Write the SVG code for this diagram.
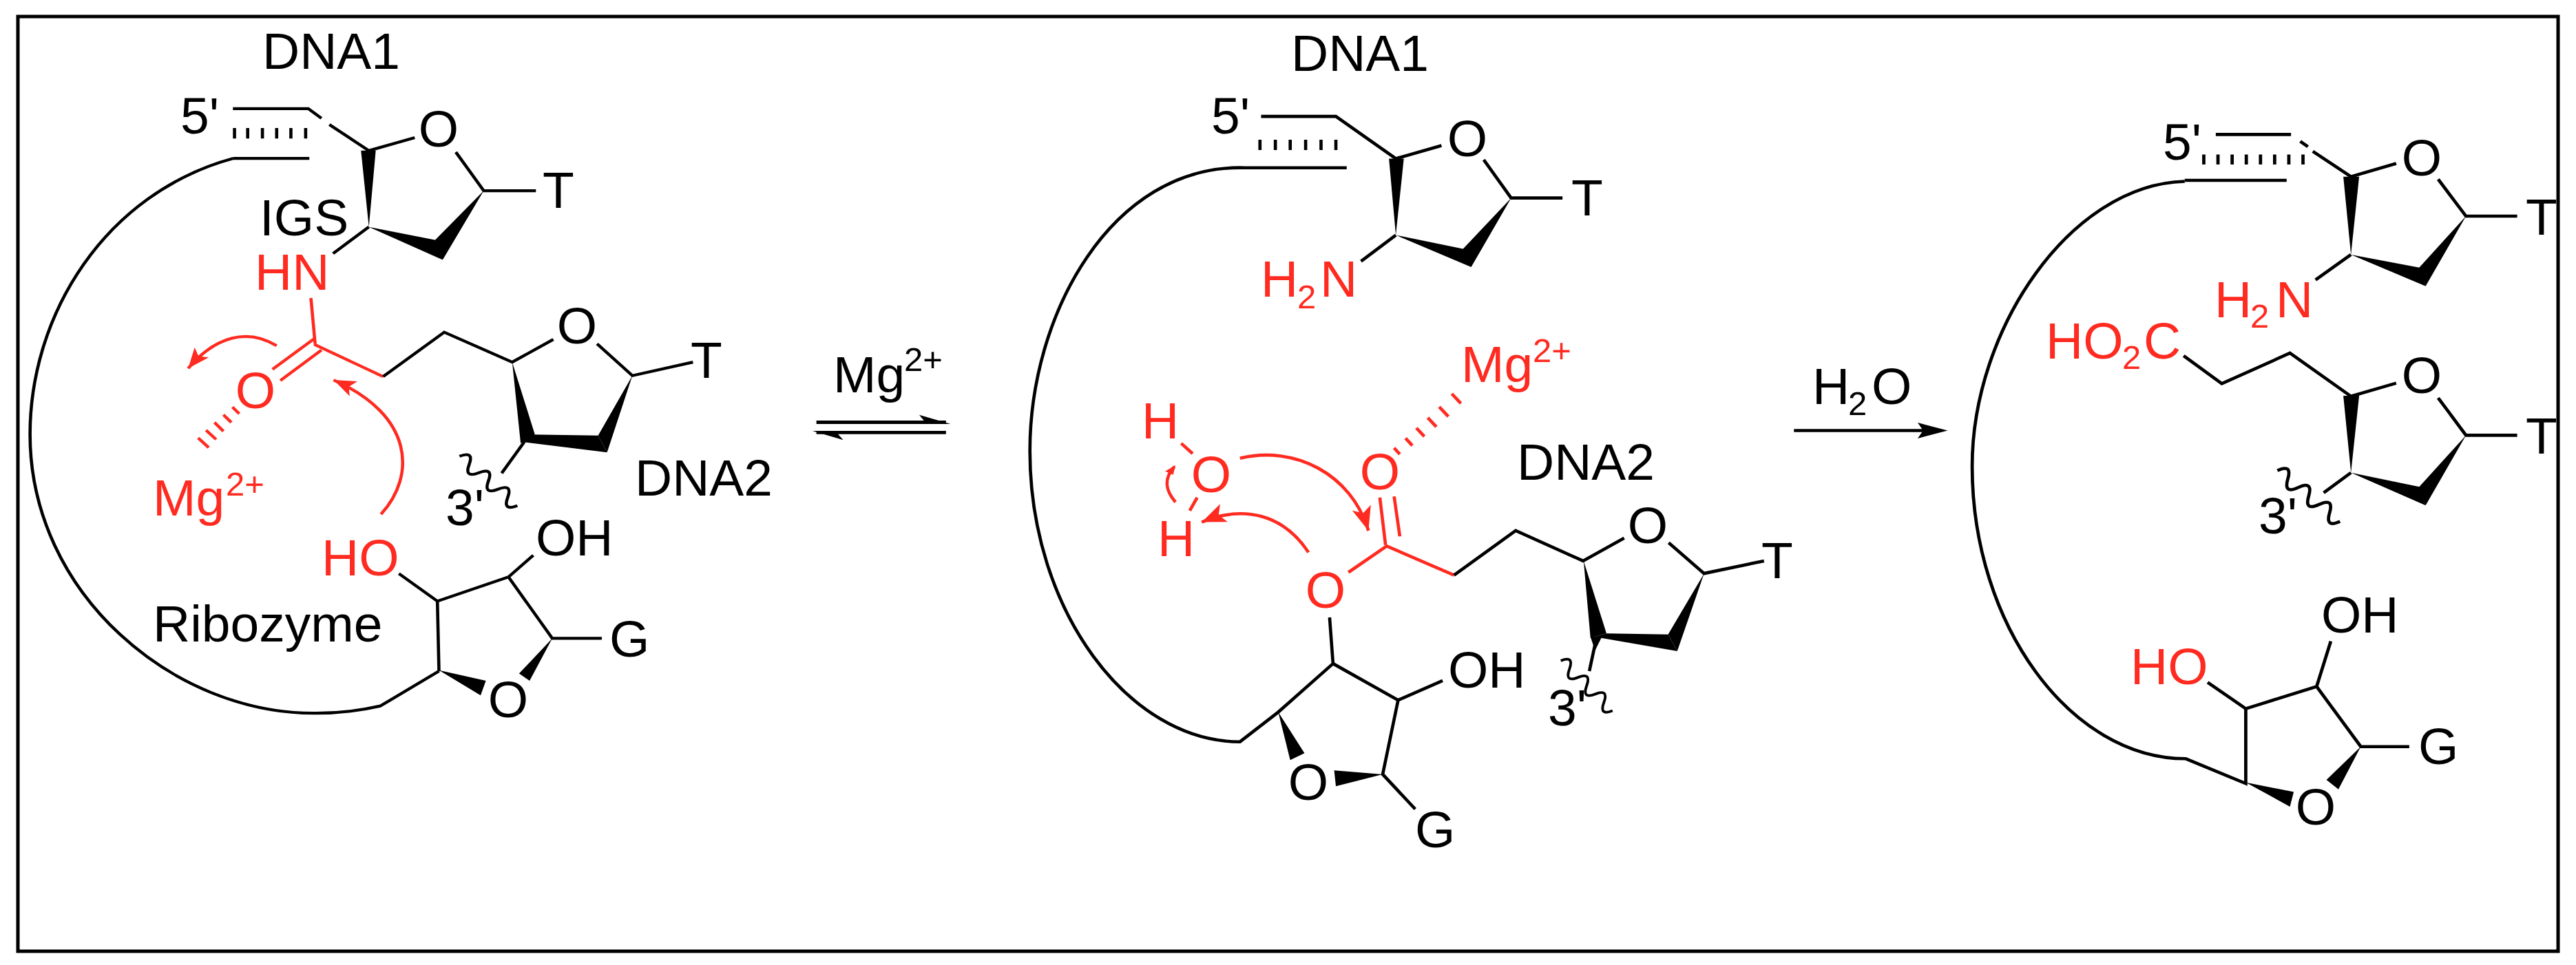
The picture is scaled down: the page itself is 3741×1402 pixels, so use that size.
<svg xmlns="http://www.w3.org/2000/svg" width="3741" height="1402" viewBox="0 0 3741 1402">
<style>
text{font-family:"Liberation Sans",Arial,sans-serif;font-size:75px;fill:#000}
.r{fill:#ff2a20}
.m{text-anchor:middle}
.s{font-size:49px}
path,line,polyline{fill:none;stroke:#000;stroke-linejoin:miter}
.rl{stroke:#ff2a20}
polygon{fill:#000;stroke:none}
</style>
<defs>
<marker id="ah" markerUnits="userSpaceOnUse" markerWidth="50" markerHeight="44" refX="42" refY="20" orient="auto"><polygon points="0,3 42,20 0,37 10,20" style="fill:#ff2a20"/></marker>
<path id="wave" d="M0,0 q12.5,-28 25,0 t25,0 t25,0 t25,0 t25,0 t25,0"/>
</defs>
<rect id="frame" x="26" y="24" width="3689" height="1358" fill="#fff" stroke="#000" stroke-width="5"/>
<g id="left-shapes" transform="scale(0.7653,0.7015)" stroke-width="6">
<polyline points="442,225 585,225 610,245"/><polyline points="625,258 700,312 787,285"/><polyline points="865,315 918,395 1017,395"/>
<path d="M445,265v22M470,265v22M498,265v22M525,265v22M552,265v22M580,265v22"/>
<line x1="443" y1="328" x2="587" y2="328"/>
<path d="M443,328 C200,400 57,650 57,900 C57,1230 330,1480 600,1477 C650,1477 690,1470 722,1462 L833,1390"/>
<polygon points="685,312 713,312 700,470"/><polygon points="700,470 830,498 840,538"/><polygon points="918,395 840,538 825,498"/>
<line x1="700" y1="470" x2="632" y2="525"/>
<line class="rl" x1="590" y1="617" x2="598" y2="712"/><line class="rl" x1="598" y1="700" x2="517" y2="765"/><line class="rl" x1="610" y1="725" x2="532" y2="788"/><line class="rl" x1="596" y1="713" x2="727" y2="780"/>
<polyline points="727,780 843,688 972,750 1050,703"/><polyline points="1133,712 1200,778 1315,750"/>
<polygon points="972,750 1015,900 988,918"/><polygon points="990,915 1005,900 1135,902 1152,937"/><polygon points="1200,778 1152,937 1135,902"/>
<line x1="995" y1="915" x2="952" y2="980"/><use href="#wave" transform="translate(872,945) rotate(43)"/>
<polyline points="757,1188 830,1245 965,1195 1012,1150"/><polyline points="965,1195 1048,1322 1142,1322"/><line x1="830" y1="1245" x2="833" y2="1390"/>
<polygon points="833,1388 922,1410 912,1440"/><polygon points="1048,1322 985,1395 1005,1410"/>
<path class="rl" marker-end="url(#ah)" d="M525,716 C470,680 410,695 357,763"/><path class="rl" marker-end="url(#ah)" d="M723,1065 C790,985 785,860 633,787"/>
<path class="rl" d="M441,843l13,14M424,859l15,16M407,875l17,18M391,891l19,19M376,907l20,20"/>
</g>
<g id="left-labels">
<text x="381" y="100">DNA1</text><text x="262" y="194">5'</text><text class="m" x="637" y="213">O</text><text x="788" y="302">T</text><text x="377" y="342">IGS</text>
<text class="r" x="370" y="421">HN</text><text class="r m" x="371" y="593">O</text>
<text class="r" x="222" y="749">Mg<tspan class="s" x="328" y="720">2+</tspan></text>
<text class="m" x="838" y="499">O</text><text x="1003" y="549">T</text><text x="647" y="763">3'</text><text x="922" y="720">DNA2</text>
<text x="778" y="807">OH</text><text class="r" x="467" y="836">HO</text><text x="222" y="932">Ribozyme</text><text x="885" y="954">G</text><text class="m" x="738" y="1042">O</text>
</g>
<g id="middle-shapes" transform="translate(1150,0) scale(0.829)" stroke-width="5.6">
<polygon points="43,737 270,737 270,743 43,743"/><polygon points="278,743 223,727 232,738 232,743"/>
<polygon points="43,755 270,755 270,761 43,761"/><polygon points="36,755 90,771 80,760 80,755"/>
<polyline points="822,204 953,204 1058,278 1138,255"/><polyline points="1212,280 1260,347 1350,347"/>
<path d="M820,245v18M847,245v18M873,245v18M900,245v18M927,245v18M953,245v18"/>
<line x1="788" y1="294" x2="972" y2="294"/>
<path d="M790,294 C560,290 417,550 417,790 C417,1070 590,1300 785,1300 L852,1248 L948,1163 L942,1082"/>
<polyline points="948,1163 1062,1227 1140,1193"/><polyline points="1062,1227 1035,1357 1092,1418"/>
<polygon points="1046,278 1072,278 1058,412"/><polygon points="1058,412 1180,437 1190,468"/><polygon points="1260,347 1190,468 1175,437"/>
<line x1="1058" y1="412" x2="997" y2="458"/>
<polygon points="852,1248 898,1320 873,1332"/><polygon points="1035,1357 950,1350 953,1378"/>
<polyline class="rl" points="975,1003 1042,957 1160,1008"/><line class="rl" x1="1030" y1="872" x2="1040" y2="955"/><line class="rl" x1="1055" y1="870" x2="1065" y2="940"/>
<polyline points="1160,1008 1268,930 1386,983 1458,943"/><polyline points="1536,951 1598,1005 1703,983"/>
<polygon points="1387,983 1427,1110 1399,1118"/><polygon points="1399,1118 1427,1110 1535,1112 1551,1141 1417,1118"/><polygon points="1598,1005 1551,1141 1535,1112"/>
<polygon points="1399,1116 1419,1116 1407,1140"/><line x1="1409" y1="1120" x2="1397" y2="1176"/><use href="#wave" transform="translate(1347,1158) rotate(44) scale(0.84)"/>
<path class="rl" marker-end="url(#ah)" d="M785,803 C880,780 980,830 1010,930"/><path class="rl" marker-end="url(#ah)" d="M905,968 C860,900 790,885 718,915"/>
<path class="rl" d="M672,880 C655,860 650,840 670,818"/><polygon points="672,815 654,826 668,832" style="fill:#ff2a20"/>
<path class="rl" d="M1055,785l10,11M1075,768l12,13M1094,750l14,15M1114,732l15,16M1134,713l16,17M1156,690l16,17"/>
<line class="rl" x1="682" y1="777" x2="702" y2="795"/><line class="rl" x1="710" y1="872" x2="697" y2="895"/>
</g>
<g id="middle-labels">
<text x="1210" y="570">Mg<tspan class="s" x="1313" y="539">2+</tspan></text>
<text x="1875" y="103">DNA1</text><text x="1759" y="194">5'</text><text class="m" x="2131" y="227">O</text><text x="2282" y="313">T</text>
<text class="r" x="1831" y="431">H<tspan class="s" x="1884" y="448">2</tspan><tspan x="1917" y="431">N</tspan></text>
<text class="r" x="2122" y="555">Mg<tspan class="s" x="2226" y="526">2+</tspan></text>
<text class="r" x="1658" y="637">H</text><text class="r m" x="1759" y="715">O</text><text class="r" x="1681" y="808">H</text><text class="r m" x="2004" y="711">O</text><text class="r m" x="1925" y="883">O</text>
<text x="2203" y="697">DNA2</text><text class="m" x="2393" y="789">O</text><text x="2103" y="999">OH</text><text x="2055" y="1231">G</text><text class="m" x="1900" y="1162">O</text><text x="2248" y="1054">3'</text><text x="2558" y="840">T</text>
</g>
<g id="right-shapes" transform="translate(2500,50) scale(0.7915,0.7653)" stroke-width="6">
<polyline points="907,190 1045,190"/><line x1="1062" y1="203" x2="1076" y2="213"/><polyline points="1085,222 1155,270 1238,245"/><polyline points="1315,275 1366,345 1460,345"/>
<path d="M885,228v19M911,228v19M937,228v19M963,228v19M989,228v19M1015,228v19M1041,228v19M1067,228v19"/>
<line x1="850" y1="277" x2="1037" y2="277"/>
<path d="M850,279 C640,285 460,560 460,820 C460,1120 640,1375 852,1375 L962,1422 L962,1280 L1092,1238 L1118,1152"/>
<polyline points="1092,1238 1173,1352 1262,1352"/><line x1="962" y1="1280" x2="892" y2="1230"/>
<polygon points="962,1420 1050,1438 1043,1466"/><polygon points="1173,1352 1110,1415 1132,1433"/>
<polygon points="1141,270 1170,270 1155,418"/><polygon points="1155,418 1282,443 1292,478"/><polygon points="1366,345 1292,478 1280,443"/>
<line x1="1155" y1="418" x2="1090" y2="466"/>
<polyline points="848,610 918,663 1043,605 1155,687 1238,662"/><polyline points="1315,690 1366,761 1460,761"/>
<polygon points="1141,686 1170,686 1155,832"/><polygon points="1155,832 1282,859 1292,894"/><polygon points="1366,761 1292,894 1280,859"/>
<line x1="1155" y1="832" x2="1105" y2="870"/><use href="#wave" transform="translate(1020,828) rotate(40)"/>
<line x1="133" y1="752" x2="375" y2="752"/><polygon points="415,752 360,737 370,752 360,767"/>
</g>
<g id="right-labels">
<text x="3141" y="232">5'</text><text class="m" x="3517" y="255">O</text><text x="3668" y="341">T</text>
<text class="r" x="3216" y="461">H<tspan class="s" x="3268" y="476">2</tspan><tspan x="3305" y="461">N</tspan></text>
<text class="r" x="2971" y="521">HO<tspan class="s" x="3082" y="536">2</tspan><tspan x="3113" y="521">C</tspan></text>
<text class="m" x="3517" y="571">O</text><text x="3668" y="659">T</text><text x="3280" y="775">3'</text><text x="3371" y="919">OH</text><text class="r" x="3094" y="994">HO</text><text x="3512" y="1110">G</text><text class="m" x="3363" y="1198">O</text>
<text x="2632" y="587">H<tspan class="s" x="2684" y="603">2</tspan><tspan x="2718" y="587">O</tspan></text>
</g>
</svg>
